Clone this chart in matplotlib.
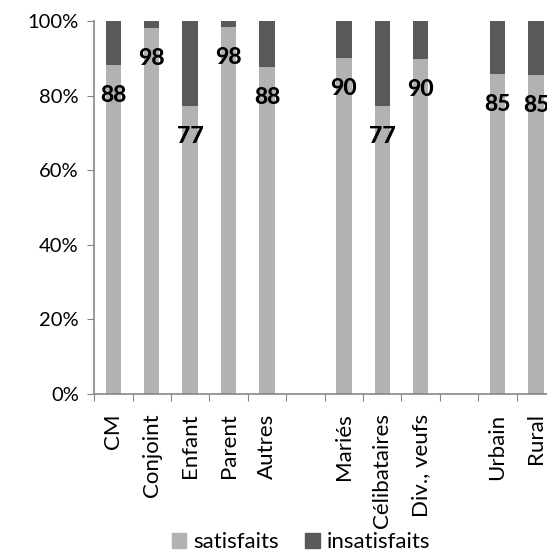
import matplotlib.pyplot as plt
from matplotlib.patches import Patch

categories = ["CM", "Conjoint", "Enfant", "Parent", "Autres", "",
              "Mariés", "Célibataires", "Div., veufs", "", "Urbain", "Rural"]
satisfaits = [88.2, 98.1, 77.2, 98.4, 87.7, None, 90.1, 77.2, 89.8, None, 85.8, 85.5]
labels = ["88", "98", "77", "98", "88", None, "90", "77", "90", None, "85", "85"]

LIGHT = "#b2b2b2"
DARK = "#595959"
GREY = "#868686"

plt.rcParams["font.family"] = ["Lato", "DejaVu Sans"]

fig = plt.figure(figsize=(5.47, 5.56), dpi=100)
ax = fig.add_axes([0.172, 0.2914, 0.843, 0.6708])

for i, s in enumerate(satisfaits):
    if s is None:
        continue
    ax.bar(i, s, width=0.4, color=LIGHT)
    ax.bar(i, 100 - s, bottom=s, width=0.4, color=DARK)
    ax.annotate(labels[i], (i, s), xytext=(0, -22), textcoords="offset points",
                ha="center", va="center", fontsize=16.5, fontweight="black")

ax.set_xlim(-0.5, len(categories) - 0.5)
ax.set_ylim(0, 100)
ax.set_yticks(range(0, 101, 20))
ax.set_yticklabels([f"{v}%" for v in range(0, 101, 20)], fontsize=14.5)

ax.set_xticks([i - 0.5 for i in range(len(categories))])
ax.set_xticklabels([])
ax.set_xticks(range(len(categories)), minor=True)
ax.set_xticklabels(categories, minor=True, rotation=90, fontsize=16, va="top")
ax.tick_params(axis="x", which="minor", length=0, pad=14)
ax.tick_params(axis="x", which="major", length=5, color=GREY, direction="out")
ax.tick_params(axis="y", length=5, color=GREY, pad=6)

for side in ["top", "right"]:
    ax.spines[side].set_visible(False)
for side in ["left", "bottom"]:
    ax.spines[side].set_color(GREY)
    ax.spines[side].set_linewidth(1.2)

handles = [Patch(color=LIGHT, label="satisfaits"), Patch(color=DARK, label="insatisfaits")]
fig.legend(handles=handles, loc="center", bbox_to_anchor=(0.55, 0.025), ncol=2,
           frameon=False, fontsize=16, handlelength=0.65, handleheight=0.65,
           handletextpad=0.3, columnspacing=1.2, borderpad=0)

fig.savefig("out.png", dpi=100)
